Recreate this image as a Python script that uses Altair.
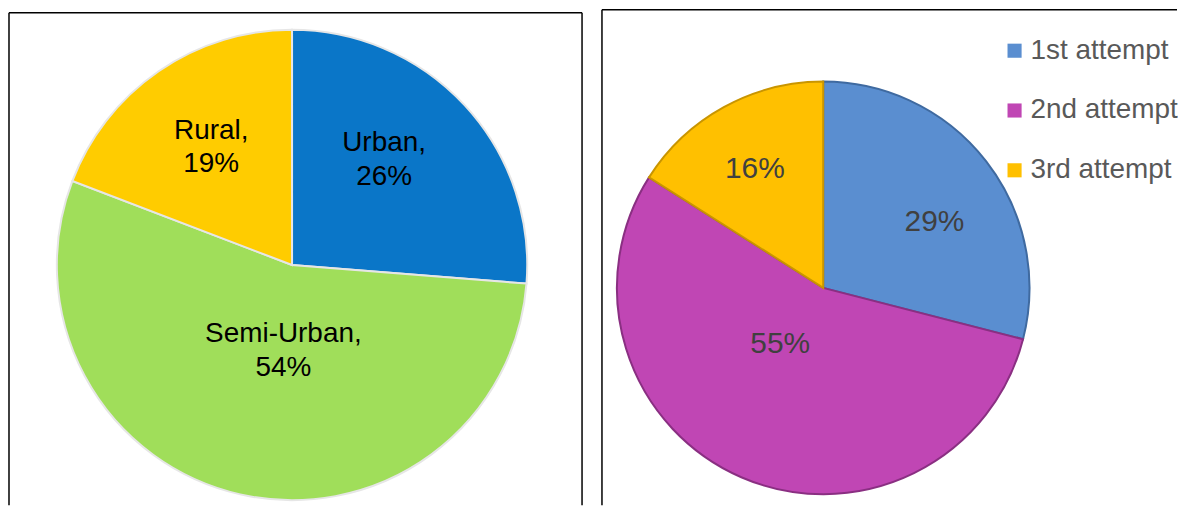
import altair as alt
import pandas as pd

# ---- data ----
areas = ["Urban", "Semi-Urban", "Rural"]
area_pct = [26, 54, 19]
area_colors = ["#0A76C8", "#A0DE5A", "#FFCC00"]

attempts = ["1st attempt", "2nd attempt", "3rd attempt"]
attempt_pct = [29, 55, 16]
attempt_colors = ["#5A8ED0", "#C046B4", "#FFC000"]
attempt_rims = ["#3F6AA0", "#8A2F82", "#C99500"]

FONT = "Liberation Sans"

left_df = pd.DataFrame({"cat": areas, "pct": area_pct, "idx": list(range(len(areas)))})
right_df = pd.DataFrame({"cat": attempts, "pct": attempt_pct, "idx": list(range(len(attempts)))})

LW, RW, H = 575, 577, 498

# label placement (style): radius in px and angular nudge in degrees per slice
left_label_style = {"Urban": (140, -6), "Semi-Urban": (87, -7), "Rural": (143, 0)}
right_label_style = {"1st attempt": (130, 7), "2nd attempt": (71, 14), "3rd attempt": (138, -1)}


def style_expr(style, k):
    expr = "0"
    for cat, vals in style.items():
        expr = f"datum.cat == '{cat}' ? {vals[k]} : ({expr})"
    return expr


def borders(width, top, right=True):
    base = alt.Chart(pd.DataFrame({"a": [0]}))
    s = dict(color="black", strokeWidth=1.5)
    layers = [
        base.mark_rule(**s).encode(x=alt.value(0), x2=alt.value(width), y=alt.value(top)),
        base.mark_rule(**s).encode(x=alt.value(0), y=alt.value(top), y2=alt.value(H)),
    ]
    if right:
        layers.append(base.mark_rule(**s).encode(x=alt.value(width), y=alt.value(top), y2=alt.value(H)))
    return alt.layer(*layers)


def label_pos(chart, style):
    return chart.transform_window(
        cum="sum(pct)", sort=[alt.SortField("idx")], frame=[None, 0]
    ).transform_joinaggregate(total="sum(pct)").transform_calculate(
        lr=style_expr(style, 0),
        nudge=style_expr(style, 1),
    ).transform_calculate(
        mid="(datum.cum - datum.pct / 2) / datum.total * 2 * PI + datum.nudge * PI / 180"
    )


# ---- left pie ----
LCX, LCY = 284, 257
lbase = alt.Chart(left_df)
l_arc = lbase.mark_arc(radius=236, stroke="#e6e6e6", strokeWidth=2).encode(
    theta=alt.Theta("pct:Q", stack=True),
    order=alt.Order("idx:O"),
    color=alt.Color("cat:N", scale=alt.Scale(domain=areas, range=area_colors), legend=None),
    x=alt.value(LCX),
    y=alt.value(LCY),
)
l_text = label_pos(lbase, left_label_style).transform_calculate(
    lab="[datum.cat + ',', datum.pct + '%']",
).mark_text(
    font=FONT, fontSize=28, color="black", align="center", baseline="middle", lineHeight=34, dy=-17
).encode(
    theta=alt.Theta("mid:Q", scale=None),
    radius=alt.Radius("lr:Q", scale=None),
    text="lab:N",
    x=alt.value(LCX),
    y=alt.value(LCY),
)
left = alt.layer(l_arc, l_text, borders(LW, 4)).properties(width=LW, height=H)

# ---- right pie ----
RCX, RCY = 222, 280
rbase = alt.Chart(right_df)
r_arc = rbase.mark_arc(radius=207, strokeWidth=2).encode(
    theta=alt.Theta("pct:Q", stack=True),
    order=alt.Order("idx:O"),
    color=alt.Color(
        "cat:N",
        scale=alt.Scale(domain=attempts, range=attempt_colors),
        legend=alt.Legend(
            title=None,
            orient="none",
            legendX=400,
            legendY=28,
            symbolType="square",
            symbolSize=200,
            symbolStrokeWidth=0,
            labelFont=FONT,
            labelFontSize=28,
            labelColor="#595959",
            labelLimit=300,
            rowPadding=32,
            labelOffset=2,
            padding=0,
        ),
    ),
    stroke=alt.Stroke("cat:N", scale=alt.Scale(domain=attempts, range=attempt_rims), legend=None),
    x=alt.value(RCX),
    y=alt.value(RCY),
)
r_text = label_pos(rbase, right_label_style).transform_calculate(
    lab="datum.pct + '%'",
).mark_text(
    font=FONT, fontSize=30, color="#404040", align="center", baseline="middle"
).encode(
    theta=alt.Theta("mid:Q", scale=None),
    radius=alt.Radius("lr:Q", scale=None),
    text="lab:N",
    x=alt.value(RCX),
    y=alt.value(RCY),
)
right = alt.layer(r_arc, r_text, borders(RW, 1, right=False)).properties(width=RW, height=H)

chart = (
    alt.hconcat(left, right, spacing=18)
    .resolve_scale(color="independent", stroke="independent")
    .resolve_legend(color="independent")
    .properties(padding=0)
    .configure_view(stroke=None)
)

chart.save("out.html", embed_options={"renderer": "svg", "actions": False})
